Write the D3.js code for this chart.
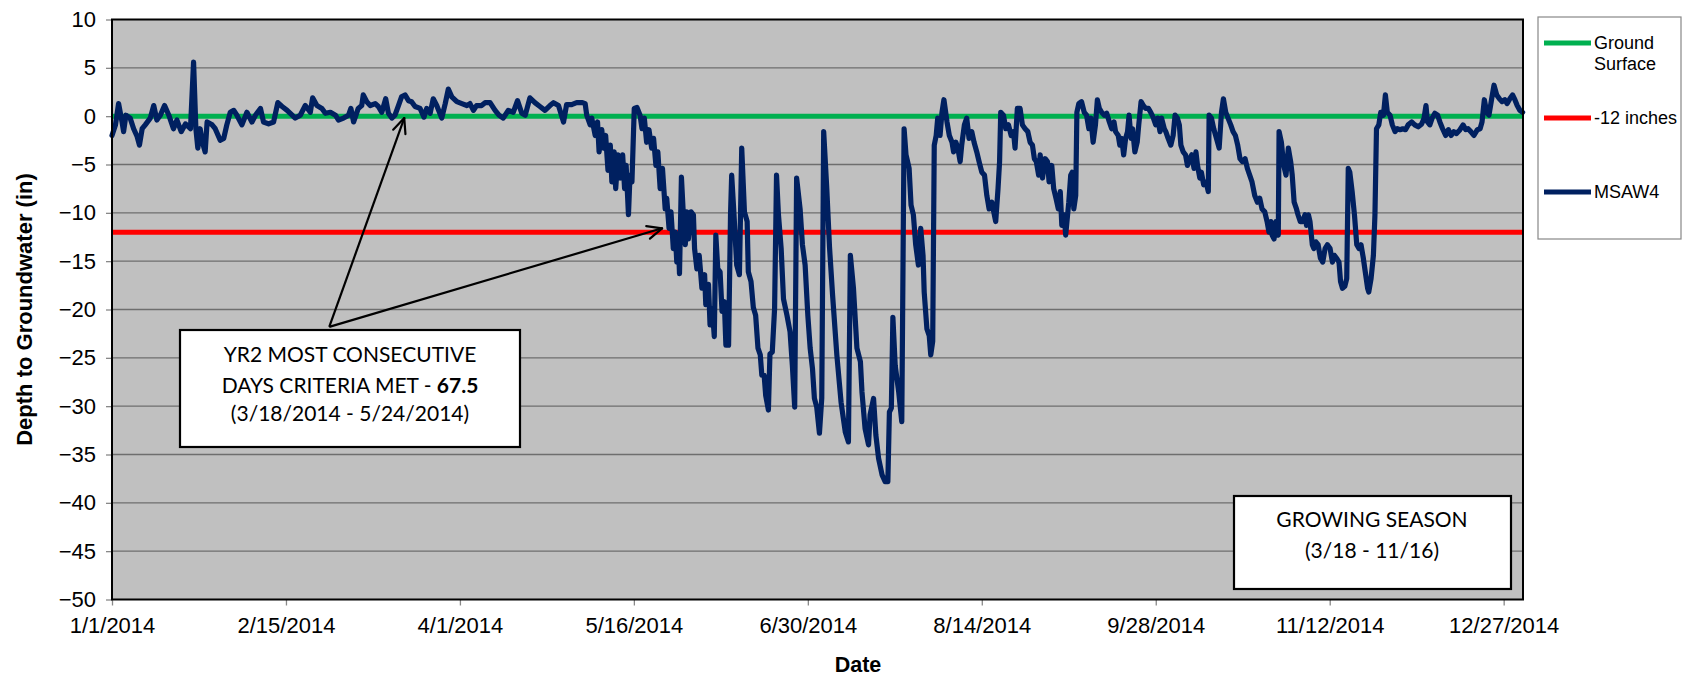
<!DOCTYPE html>
<html><head><meta charset="utf-8">
<script src="https://cdn.jsdelivr.net/npm/d3@7"></script>
<style>body{margin:0;background:#fff}svg{display:block}</style>
</head><body><svg id="c" width="1682" height="676"></svg>
<script>
// ---- data ----
const dayOfYear = [0,0.9,1.7,2.6,3.0,3.6,4.7,5.6,6.5,7.1,7.8,8.6,9.9,10.8,11.6,12.5,13.6,14.7,15.9,16.8,17.9,19.0,20.3,21.1,21.7,22.2,22.8,23.4,24.1,24.6,25.9,26.7,28.0,28.9,29.7,30.6,31.5,32.3,33.6,34.9,36.2,37.1,38.4,39.2,40.5,41.8,42.9,44.0,45.3,46.6,47.4,48.7,50.0,51.3,51.9,53.0,54.3,55.2,56.5,57.8,58.6,59.9,61.2,61.8,62.5,
63.7,64.6,65.0,65.9,66.8,68.1,68.9,69.8,70.8,71.5,72.4,73.2,74.1,74.9,75.8,76.7,77.5,78.4,79.7,80.7,81.4,82.3,83.1,84.0,85.3,86.2,87.0,87.9,89.2,90.5,91.8,92.6,93.5,94.3,95.6,96.5,97.8,99.1,100.1,101.2,102.5,103.8,104.9,106.0,106.9,108.1,109.4,110.7,112.0,113.3,114.2,115.5,116.8,117.6,118.9,120.2,121.7,
122.4,122.8,123.7,124.1,125.0,125.6,126.0,126.7,127.1,127.7,128.3,128.9,129.3,129.9,130.3,130.9,131.5,132.1,132.6,133.0,133.6,134.0,134.5,135.1,135.8,136.6,137.1,137.7,138.3,138.9,139.6,140.1,140.7,141.2,141.8,142.4,143.1,143.5,144.1,144.6,145.2,145.7,146.1,146.5,146.8,147.3,147.8,148.3,148.7,149.1,149.8,150.4,150.7,151.3,151.9,152.6,153.3,153.6,154.3,154.7,155.3,155.8,156.2,156.7,157.3,157.8,158.4,158.8,159.5,160.0,160.3,160.9,161.6,162.3,162.9,163.6,164.3,164.6,165.3,165.9,166.5,167.1,167.7,168.1,168.7,169.1,169.8,170.2,170.8,171.4,171.9,172.4,173.1,173.7,174.6,175.4,176.0,176.6,177.1,178.0,178.6,179.3,180.0,180.6,181.2,181.7,182.3,183.0,183.6,184.1,
184.9,185.6,186.4,187.5,188.6,189.7,190.5,191.0,191.8,192.7,193.6,194.0,194.8,195.7,196.1,197.0,197.6,198.3,199.2,200.0,200.7,201.1,201.6,202.0,202.6,203.5,204.3,204.9,205.4,206.2,206.7,207.3,207.9,208.6,209.2,209.8,210.1,210.8,211.4,211.8,212.3,212.7,213.2,213.6,214.2,214.7,215.2,216.0,216.6,217.3,217.7,218.3,218.8,219.4,219.8,220.5,221.1,221.7,222.4,223.0,223.7,224.3,225.0,225.7,226.3,226.9,227.6,228.1,228.6,229.2,229.6,229.9,230.6,231.2,231.9,232.6,233.2,233.6,234.2,234.9,235.5,236.2,236.9,237.5,238.1,238.6,239.1,239.7,240.1,240.7,241.4,242.0,242.4,243.1,243.6,244.2,244.8,245.3,245.7,246.3,246.7,
247.5,248.0,248.4,248.8,249.3,249.6,250.1,250.8,251.5,252.1,252.7,253.2,253.8,254.4,254.9,255.4,256.0,256.7,257.3,258.0,258.6,259.2,259.6,260.3,260.7,261.2,261.7,262.2,262.7,263.1,263.6,264.0,264.6,265.2,265.6,266.2,266.8,267.4,268.1,268.7,269.3,270.0,270.5,271.1,271.5,272.2,272.6,273.2,273.9,274.5,275.0,275.6,276.1,276.5,277.1,277.7,278.2,278.8,279.3,279.9,280.4,280.8,281.4,281.8,282.4,283.0,283.6,283.8,284.4,285.0,285.7,286.4,287.0,287.5,288.1,288.7,289.4,290.0,290.6,291.2,291.8,292.4,293.1,293.7,294.3,294.9,295.6,296.3,296.9,297.5,298.2,298.8,299.3,299.8,300.1,300.6,301.1,301.7,301.9,302.5,303.1,303.7,304.3,304.9,305.3,305.8,306.4,306.8,
307.4,308.0,308.6,309.0,309.5,309.9,310.5,310.9,311.4,312.0,312.6,313.2,313.8,314.4,315.1,315.7,316.2,316.8,317.4,317.8,318.3,318.9,319.4,319.8,320.2,320.8,321.4,322.0,322.6,323.1,323.7,324.3,324.8,325.1,325.7,326.3,326.7,327.1,327.7,328.2,328.9,329.4,329.9,330.6,331.2,331.9,332.5,333.2,333.9,334.6,335.3,336.2,337.0,337.9,338.8,339.4,339.9,340.3,340.9,341.5,342.2,342.9,343.5,344.2,345.0,345.7,346.4,347.1,347.8,348.7,349.5,350.2,350.8,351.5,352.3,353.2,353.9,354.4,355.0,355.6,356.2,356.9,357.5,358.2,358.9,359.6,360.3,360.9,361.6,362.3,362.9,363.5,364.2,364.9];

const depthIn = [-2.0,-0.9,1.3,-0.6,-1.6,0.1,-0.2,-1.3,-2.1,-3.0,-1.3,-0.9,-0.2,1.1,-0.4,0.1,1.1,0.1,-1.3,-0.4,-1.6,-0.8,-1.3,5.6,-1.3,-3.3,-1.3,-2.7,-3.7,-0.6,-0.9,-1.3,-2.5,-2.3,-0.9,0.4,0.6,0.1,-0.9,0.4,-0.6,0.1,0.8,-0.6,-0.8,-0.6,1.4,1.0,0.6,0.1,-0.2,0.1,1.1,0.4,1.9,1.1,0.8,0.3,0.4,0.1,-0.4,-0.2,0.1,0.8,-0.6,
0.8,1.1,2.2,1.5,1.1,1.3,1.0,0.4,1.8,0.3,-0.2,0.1,1.1,2.0,2.2,1.6,1.5,1.0,0.8,-0.1,0.8,0.3,1.8,1.1,-0.2,1.3,2.8,2.0,1.5,1.3,1.1,1.3,0.6,1.1,1.1,1.4,1.4,0.6,0.1,-0.2,0.6,0.4,1.6,0.3,0.1,1.9,1.4,1.0,0.6,1.1,1.4,1.1,-0.6,1.2,1.2,1.4,1.4,
1.3,0.1,-0.9,-0.2,-2.0,-0.6,-3.7,-1.4,-3.3,-2.0,-5.6,-3.0,-6.8,-3.7,-7.5,-4.0,-6.4,-4.0,-7.5,-5.1,-10.2,-6.1,-6.8,0.8,0.9,0.1,-1.3,-0.2,-2.7,-1.4,-3.3,-2.3,-5.1,-3.7,-7.5,-5.4,-9.6,-8.5,-11.6,-9.9,-13.7,-12.0,-15.1,-13.0,-16.3,-6.3,-10.2,-13.3,-9.9,-12.7,-9.9,-10.2,-13.7,-15.8,-14.4,-17.8,-16.4,-19.5,-17.4,-21.6,-19.9,-22.8,-12.3,-15.8,-16.1,-20.2,-19.2,-23.7,-23.7,-10.2,-6.1,-10.2,-15.4,-16.4,-3.3,-9.9,-10.9,-16.1,-17.1,-19.8,-20.6,-24.0,-24.7,-26.8,-26.8,-28.9,-30.4,-24.6,-24.4,-19.9,-6.1,-10.2,-13.7,-18.9,-20.6,-22.3,-25.8,-30.1,-6.4,-9.6,-13.3,-15.4,-20.6,-24.0,-26.1,-29.2,-30.1,-32.8,-29.2,-1.6,
-7.5,-13.5,-18.5,-24.7,-29.6,-32.7,-33.7,-14.4,-17.8,-24.0,-25.4,-28.5,-32.3,-34.0,-30.9,-29.2,-33.0,-35.4,-37.1,-37.8,-37.8,-30.6,-30.2,-20.8,-25.8,-28.5,-31.6,-1.3,-4.0,-5.4,-9.2,-10.2,-13.3,-15.4,-11.6,-14.4,-18.2,-22.0,-22.7,-24.7,-23.3,-3.0,-2.0,-0.2,-2.0,0.4,1.7,-0.6,-2.0,-2.7,-3.7,-2.7,-3.3,-4.7,-3.0,-0.9,-0.2,-2.3,-1.6,-2.7,-3.7,-4.7,-5.8,-6.1,-8.2,-9.6,-8.9,-9.9,-10.9,-7.5,-4.7,0.4,0.1,-1.3,-0.9,-2.0,-1.6,-3.3,0.8,0.8,-0.9,-1.3,-1.6,-2.7,-3.0,-4.4,-4.7,-6.1,-4.0,-6.4,-4.4,-4.7,-6.8,-5.1,-7.5,-8.5,-9.6,-7.8,-11.3,-10.2,-12.3,
-8.9,-6.1,-5.8,-9.6,-8.2,0.4,1.3,1.5,0.4,0.1,-1.3,-0.2,-2.7,-0.9,1.7,0.8,0.4,0.1,0.3,-0.6,-1.3,-0.6,-1.6,-2.0,-3.0,-2.3,-4.0,-2.3,-1.6,0.1,-2.3,-1.3,-3.7,-2.7,-0.9,1.5,1.1,0.8,0.8,0.4,-0.1,-0.9,-0.2,-1.6,-0.2,-1.3,-1.6,-2.3,-3.0,-2.0,0.1,-0.2,-0.9,-3.0,-3.7,-4.0,-5.1,-4.4,-4.0,-5.4,-3.7,-5.1,-6.4,-5.8,-7.1,-6.8,-7.8,0.1,-0.2,-1.3,-2.3,-3.3,0.4,1.8,0.4,-0.2,-0.9,-1.6,-2.0,-3.0,-4.4,-4.7,-4.4,-5.4,-6.1,-6.8,-8.2,-8.9,-8.5,-9.6,-9.9,-10.9,-12.0,-10.9,-12.3,-12.7,-10.9,-12.3,-1.6,-2.7,-5.1,-6.1,-3.3,-4.7,-6.1,-8.9,-9.6,-10.2,
-10.9,-10.9,-10.2,-11.3,-10.2,-10.9,-13.3,-13.7,-13.0,-13.3,-14.7,-15.1,-13.7,-13.3,-13.7,-15.1,-14.4,-14.7,-15.1,-17.1,-17.8,-17.6,-16.8,-5.4,-5.8,-7.8,-10.2,-13.3,-13.7,-13.3,-14.7,-16.4,-17.8,-18.2,-16.8,-14.4,-10.2,-1.3,-0.9,0.4,0.1,2.2,0.4,0.1,-0.9,-1.6,-1.3,-1.4,-1.3,-1.4,-0.9,-0.6,-0.9,-1.1,-0.8,-0.2,1.1,-0.6,-0.9,-0.2,0.3,0.1,-0.6,-1.3,-2.0,-1.4,-2.0,-1.6,-1.8,-1.4,-0.9,-1.4,-1.3,-1.6,-2.0,-1.4,-1.3,-0.6,1.7,0.4,0.1,1.8,3.2,2.2,1.8,1.5,1.7,1.3,1.8,2.2,1.7,1.1,0.6,0.4];

const groundSurface = 0;
const criteriaLevel = -12;
const yTickValues = [10,5,0,-5,-10,-15,-20,-25,-30,-35,-40,-45,-50];
const xTickLabels = ["1/1/2014","2/15/2014","4/1/2014","5/16/2014","6/30/2014","8/14/2014","9/28/2014","11/12/2014","12/27/2014"];
const seriesNames = ["Ground Surface","-12 inches","MSAW4"];
const seriesColors = ["#00B050","#FF0000","#002060"];

// ---- chart ----
const svg = d3.select("#c");
const X0 = 112, X1 = 1523, Y0 = 19.5, Y1 = 599.5;
const start = new Date(Date.UTC(2014,0,1)), end = new Date(Date.UTC(2015,0,1));
const toDate = d => new Date(start.getTime() + d*864e5);
const x = d3.scaleUtc().domain([start,end]).range([X0,X1]);
const y = d3.scaleLinear().domain([-50,10]).range([Y1,Y0]);
const parse = d3.utcParse("%m/%d/%Y");
const fmt = d3.utcFormat("%-m/%-d/%Y");
const FONT = "'Liberation Sans', Arial, sans-serif";

svg.append("rect").attr("x",X0).attr("y",Y0).attr("width",X1-X0).attr("height",Y1-Y0).attr("fill","#C0C0C0");

// gridlines
svg.append("g").selectAll("line").data(yTickValues.filter(v=>v>-50&&v<10)).join("line")
  .attr("x1",X0).attr("x2",X1).attr("y1",d=>y(d)).attr("y2",d=>y(d))
  .attr("stroke","#6e6e6e").attr("stroke-width",1.3);

// axes
const yAxis = svg.append("g").attr("transform",`translate(${X0},0)`)
  .call(d3.axisLeft(y).tickValues(yTickValues).tickSize(6).tickPadding(10));
const xAxis = svg.append("g").attr("transform",`translate(0,${Y1})`)
  .call(d3.axisBottom(x).tickValues(xTickLabels.map(parse)).tickFormat(fmt).tickSize(6).tickPadding(12));
[yAxis,xAxis].forEach(g=>{
  g.select(".domain").remove();
  g.selectAll(".tick line").attr("stroke","#888").attr("stroke-width",1.3);
  g.selectAll(".tick text").attr("font-family",FONT).attr("font-size",22).attr("fill","#000");
});

// reference lines
const rl = svg.append("g");
[[groundSurface,0],[criteriaLevel,1]].forEach(([v,i])=>{
  rl.append("line").attr("x1",X0).attr("x2",X1).attr("y1",y(v)).attr("y2",y(v))
    .attr("stroke",seriesColors[i]).attr("stroke-width",5);
});

// series
const pts = dayOfYear.map((d,i)=>({date:toDate(d), v:depthIn[i]}));
svg.append("path").datum(pts)
  .attr("d",d3.line().x(d=>x(d.date)).y(d=>y(d.v)))
  .attr("fill","none").attr("stroke",seriesColors[2]).attr("stroke-width",5.2)
  .attr("stroke-linejoin","round").attr("stroke-linecap","round");

// plot border
svg.append("rect").attr("x",X0).attr("y",Y0).attr("width",X1-X0).attr("height",Y1-Y0)
  .attr("fill","none").attr("stroke","#000").attr("stroke-width",2);

// axis titles
svg.append("text").attr("transform",`translate(32,${(Y0+Y1)/2}) rotate(-90)`)
  .attr("text-anchor","middle").attr("font-family",FONT).attr("font-weight","bold")
  .attr("font-size",22).text("Depth to Groundwater (in)");
svg.append("text").attr("x",858).attr("y",672).attr("text-anchor","middle")
  .attr("font-family",FONT).attr("font-weight","bold").attr("font-size",21.5).text("Date");

// legend
const lg = svg.append("g");
lg.append("rect").attr("x",1538).attr("y",17).attr("width",143).attr("height",222)
  .attr("fill","#fff").attr("stroke","#888").attr("stroke-width",1.2);
const legY = [43,118,192];
seriesNames.forEach((n,i)=>{
  lg.append("line").attr("x1",1544).attr("x2",1591).attr("y1",legY[i]).attr("y2",legY[i])
    .attr("stroke",seriesColors[i]).attr("stroke-width",5);
  const t = lg.append("text").attr("x",1594).attr("y",legY[i]+6).attr("font-family",FONT).attr("font-size",18);
  if (n === "Ground Surface") {
    t.append("tspan").attr("x",1594).text("Ground");
    t.append("tspan").attr("x",1594).attr("dy",21).text("Surface");
  } else t.text(n);
});

// annotations
const AF = "Lato, 'Open Sans', sans-serif";
const ann = svg.append("g");
function arrow(x1,y1,x2,y2){
  ann.append("line").attr("x1",x1).attr("y1",y1).attr("x2",x2).attr("y2",y2).attr("stroke","#000").attr("stroke-width",2.2);
  const a = Math.atan2(y2-y1,x2-x1), L=16, w=0.42;
  [a+Math.PI-w, a+Math.PI+w].forEach(b=>{
    ann.append("line").attr("x1",x2).attr("y1",y2).attr("x2",x2+L*Math.cos(b)).attr("y2",y2+L*Math.sin(b))
      .attr("stroke","#000").attr("stroke-width",2.2).attr("stroke-linecap","round");
  });
}
const ax0 = x(toDate(56.2)), ay0 = y(-21.8);
arrow(ax0, ay0, x(toDate(75.6)), y(-0.2));
arrow(ax0, ay0, x(toDate(142.3)), y(-11.6));

ann.append("rect").attr("x",180).attr("y",330).attr("width",340).attr("height",117)
  .attr("fill","#fff").attr("stroke","#000").attr("stroke-width",2.2);
const b1 = ann.append("text").attr("text-anchor","middle").attr("font-family",AF).attr("font-size",21).attr("fill","#000");
b1.append("tspan").attr("x",350).attr("y",362).text("YR2 MOST CONSECUTIVE");
const l2 = b1.append("tspan").attr("x",350).attr("y",393);
l2.append("tspan").text("DAYS CRITERIA MET - ");
l2.append("tspan").attr("font-weight","bold").text("67.5");
b1.append("tspan").attr("x",350).attr("y",421).text("(3/18/2014 - 5/24/2014)");

ann.append("rect").attr("x",1234).attr("y",496).attr("width",277).attr("height",93)
  .attr("fill","#fff").attr("stroke","#000").attr("stroke-width",2.2);
const b2 = ann.append("text").attr("text-anchor","middle").attr("font-family",AF).attr("font-size",21).attr("fill","#000");
b2.append("tspan").attr("x",1372).attr("y",527).text("GROWING SEASON");
b2.append("tspan").attr("x",1372).attr("y",558).text("(3/18 - 11/16)");
</script></body></html>
